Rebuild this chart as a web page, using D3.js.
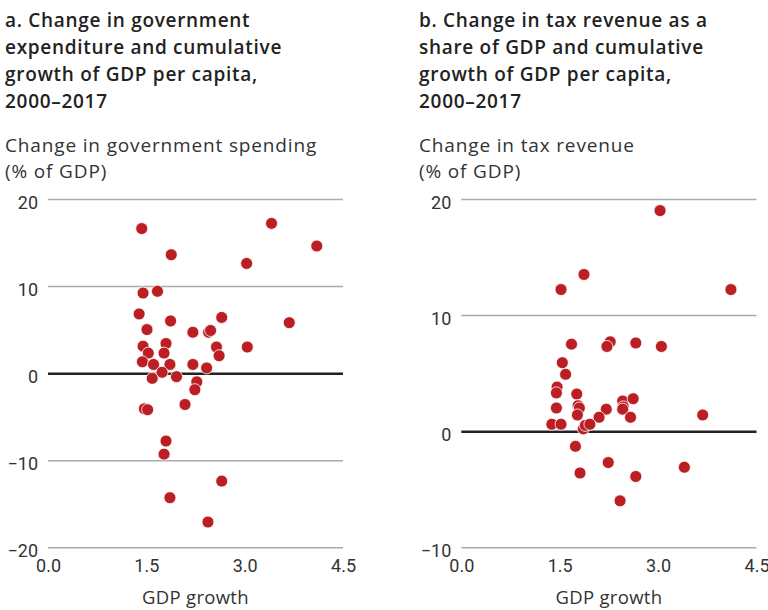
<!DOCTYPE html>
<html><head><meta charset="utf-8">
<script src="https://cdn.jsdelivr.net/npm/d3@7"></script>
<style>
body{margin:0;background:#fff;}
svg{display:block;font-family:"Open Sans",Roboto,sans-serif;}
</style></head>
<body><svg id="c" width="768" height="610"></svg>
<script>
// Panel a: GDP growth vs change in government spending (% of GDP)
const gdpA   = [1.43,1.88,3.41,4.10,3.03,1.45,1.67,1.39,1.87,2.65,3.68,1.51,2.21,2.45,2.48,1.45,1.80,1.53,1.77,2.57,2.61,3.04,1.44,1.61,1.86,2.21,2.42,1.74,1.59,1.96,2.27,2.24,2.09,1.47,1.52,1.80,1.77,2.65,1.86,2.44];
const spendA = [16.6,13.6,17.2,14.6,12.6,9.2,9.4,6.8,6.0,6.4,5.8,5.0,4.7,4.7,4.9,3.1,3.4,2.3,2.3,3.0,2.0,3.0,1.3,1.0,1.0,1.0,0.6,0.1,-0.6,-0.4,-1.0,-1.9,-3.6,-4.1,-4.2,-7.8,-9.3,-12.4,-14.3,-17.1];
// Panel b: GDP growth vs change in tax revenue (% of GDP)
const gdpB = [3.03,1.87,1.52,4.11,1.68,2.27,2.22,2.66,3.05,1.54,1.59,1.46,1.45,1.76,1.45,1.78,1.80,1.77,2.21,2.10,2.46,2.47,2.46,2.62,2.58,1.38,1.52,1.86,1.89,1.96,1.74,1.81,2.24,2.66,2.42,3.40,3.68];
const taxB = [19.0,13.5,12.2,12.2,7.5,7.7,7.3,7.6,7.3,5.9,4.9,3.8,3.3,3.2,2.0,2.2,2.0,1.4,1.9,1.2,2.6,2.1,1.9,2.8,1.2,0.6,0.6,0.2,0.5,0.6,-1.3,-3.6,-2.7,-3.9,-6.0,-3.1,1.4];
const xTicks = [0, 1.5, 3.0, 4.5];
const yTicksA = [-20,-10,0,10,20];
const yTicksB = [-10,0,10,20];
const titleA = ["a. Change in government","expenditure and cumulative","growth of GDP per capita,","2000\u20132017"];
const titleB = ["b. Change in tax revenue as a","share of GDP and cumulative","growth of GDP per capita,","2000\u20132017"];
const ylabA = ["Change in government spending","(% of GDP)"];
const ylabB = ["Change in tax revenue","(% of GDP)"];
const xlab = "GDP growth";

const svg = d3.select("#c");
const red = "#bb1e23";
const fmtY = d => d < 0 ? "\u2212" + Math.abs(d) : String(d);

function panel(opt){
  const g = svg.append("g");
  const t = g.append("text").attr("font-weight",600).attr("font-size",19).attr("fill","#222").attr("letter-spacing",0.7);
  opt.title.forEach((s,i)=> t.append("tspan").attr("x",opt.tx).attr("y",27+i*27).text(s));
  const yl = g.append("text").attr("font-size",19).attr("fill","#333").attr("letter-spacing",0.85);
  opt.ylab.forEach((s,i)=> yl.append("tspan").attr("x",opt.tx).attr("y",152+i*26).text(s));

  const x = d3.scaleLinear().domain([0,4.5]).range([opt.x0, opt.x1]);
  const y = d3.scaleLinear().domain(opt.ydom).range([547.3, 199]);

  const ya = g.append("g").attr("transform",`translate(${opt.x0},0)`)
    .call(d3.axisLeft(y).tickValues(opt.yTicks).tickSize(-(opt.x1-opt.x0)).tickPadding(10).tickFormat(fmtY));
  ya.select(".domain").remove();
  ya.selectAll(".tick line").attr("stroke", d=> d===0 ? "#222" : "#aaa").attr("stroke-width", d=> d===0 ? 2.5 : 1.5);
  ya.selectAll(".tick text").attr("font-size",18).attr("fill","#333").attr("font-family","Roboto").attr("dy","0.5em");

  const xa = g.append("g").attr("transform",`translate(0,547.3)`)
    .call(d3.axisBottom(x).tickValues(xTicks).tickSize(0).tickPadding(12).tickFormat(d3.format(".1f")));
  xa.select(".domain").remove();
  xa.selectAll(".tick text").attr("font-size",18).attr("fill","#333").attr("font-family","Roboto");

  g.append("text").attr("x",(opt.x0+opt.x1)/2).attr("y",604).attr("text-anchor","middle")
    .attr("font-size",18.5).attr("fill","#333").attr("letter-spacing",0.3).text(xlab);

  g.append("g").selectAll("circle").data(opt.xs.map((v,i)=>[v,opt.ys[i]])).join("circle")
    .attr("cx",d=>x(d[0])).attr("cy",d=>y(d[1])).attr("r",6)
    .attr("fill",red).attr("stroke","#fff").attr("stroke-width",0.8);
}

panel({title:titleA, ylab:ylabA, tx:5, x0:48, x1:343, ydom:[-20,20], yTicks:yTicksA, xs:gdpA, ys:spendA});
panel({title:titleB, ylab:ylabB, tx:419, x0:461.3, x1:756.5, ydom:[-10,20], yTicks:yTicksB, xs:gdpB, ys:taxB});
</script></body></html>
